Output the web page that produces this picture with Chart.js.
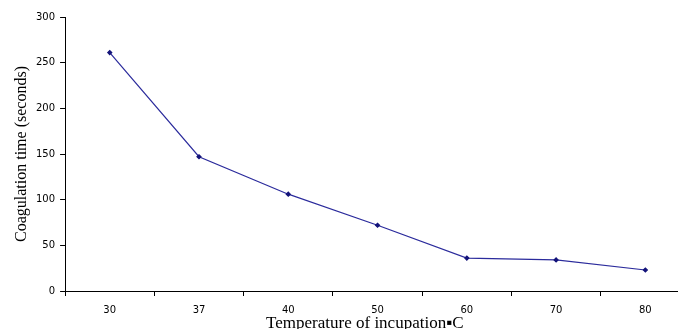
<!DOCTYPE html>
<html>
<head>
<meta charset="utf-8">
<script src="https://cdn.jsdelivr.net/npm/chart.js@4/dist/chart.umd.min.js"></script>
<style>
  html, body { margin: 0; padding: 0; background: #fff; overflow: hidden; }
  #wrap { width: 712px; height: 332px; }
</style>
</head>
<body>
<div id="wrap"><canvas id="chart"></canvas></div>
<script>
const temps = ['30', '37', '40', '50', '60', '70', '80'];
const coagTimes = [261, 147, 106, 72, 36, 34, 23];
const yTicks = [0, 50, 100, 150, 200, 250, 300];

const ctx = document.getElementById('chart').getContext('2d');
new Chart(ctx, {
    type: 'line',
    data: {
        labels: temps,
        datasets: [{
            data: coagTimes,
            borderColor: '#2b2b9c',
            borderWidth: 1.2,
            backgroundColor: '#14147a',
            pointBackgroundColor: '#14147a',
            pointBorderColor: '#14147a',
            pointRadius: 2,
            pointStyle: 'rectRot',
            tension: 0
        }]
    },
    options: {
        responsive: true,
        maintainAspectRatio: false,
        animation: false,
        layout: { padding: { top: 17, right: 22, left: 14, bottom: 0 } },
        plugins: { legend: { display: false }, tooltip: { enabled: false } },
        scales: {
            x: {
                offset: true,
                grid: { display: true, offset: true, drawOnChartArea: false, drawTicks: true, tickLength: 5, color: '#000' },
                border: { display: true, color: '#000', width: 1 },
                ticks: { color: '#000', font: { family: 'DejaVu Sans', size: 10 }, padding: 8, maxRotation: 0 },
                title: {
                    display: true,
                    text: 'Temperature of incupation\u25aaC\u00a0\u00a0\u00a0\u00a0\u00a0\u00a0',
                    color: '#000',
                    font: { family: 'Liberation Serif', size: 17, lineHeight: 1.0 },
                    padding: { top: -9, bottom: 0 }
                }
            },
            y: {
                min: 0,
                max: 300,
                afterBuildTicks: axis => { axis.ticks = yTicks.map(v => ({ value: v })); },
                grid: { display: true, drawOnChartArea: false, drawTicks: true, tickLength: 5, color: '#000' },
                border: { display: true, color: '#000', width: 1 },
                ticks: { color: '#000', font: { family: 'DejaVu Sans', size: 10 }, padding: 5 },
                title: {
                    display: true,
                    text: 'Coagulation time (seconds)',
                    color: '#000',
                    font: { family: 'Liberation Serif', size: 16, lineHeight: 1.0 },
                    padding: { top: 0, bottom: 1 }
                }
            }
        }
    }
});
</script>
</body>
</html>
